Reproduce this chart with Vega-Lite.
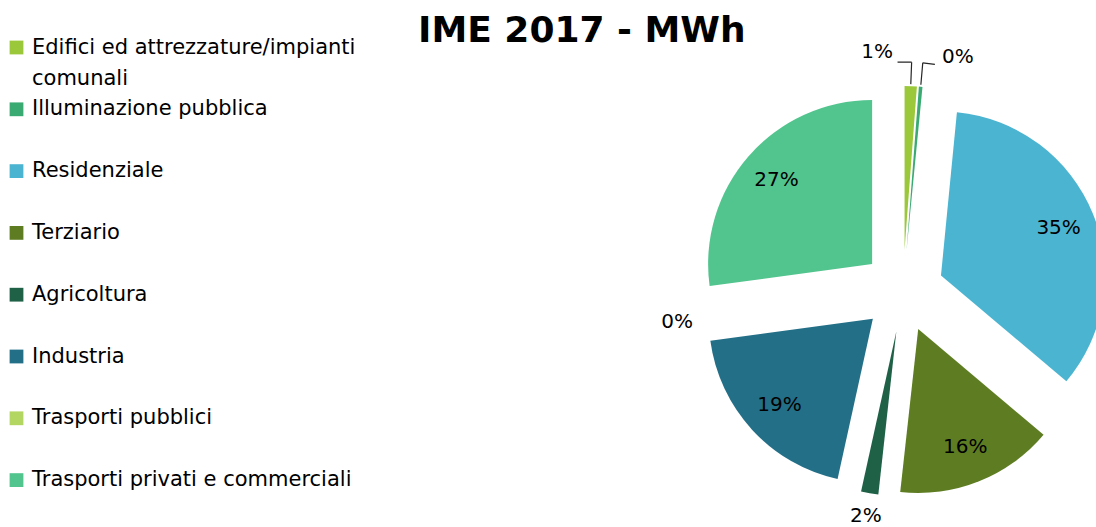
{
  "$schema": "https://vega.github.io/schema/vega-lite/v6.json",
  "width": 1096,
  "height": 527,
  "autosize": {"type": "none"},
  "padding": 0,
  "background": "#ffffff",
  "config": {"view": {"stroke": null}},
  "title": {
    "text": "IME 2017 - MWh",
    "font": "DejaVu Sans",
    "fontSize": 36,
    "fontWeight": "bold",
    "color": "#000000",
    "anchor": "start",
    "frame": "group",
    "dx": 418,
    "offset": -50
  },
  "data": {
    "values": [
      {"idx": 1, "category": "Edifici ed attrezzature/impianti comunali", "value": 1.2},
      {"idx": 2, "category": "Illuminazione pubblica", "value": 0.35},
      {"idx": 3, "category": "Residenziale", "value": 34.6},
      {"idx": 4, "category": "Terziario", "value": 15.6},
      {"idx": 5, "category": "Agricoltura", "value": 1.7},
      {"idx": 6, "category": "Industria", "value": 19.4},
      {"idx": 7, "category": "Trasporti pubblici", "value": 0},
      {"idx": 8, "category": "Trasporti privati e commerciali", "value": 27.15}
    ]
  },
  "transform": [
    {"window": [{"op": "sum", "field": "value", "as": "cum"}], "sort": [{"field": "idx"}], "frame": [null, 0]},
    {"calculate": "datum.cum - datum.value", "as": "start"},
    {"calculate": "datum.cum - datum.value / 2", "as": "mid"},
    {"calculate": "sin(datum.mid / 100 * 2 * PI)", "as": "ex"},
    {"calculate": "-cos(datum.mid / 100 * 2 * PI)", "as": "ey"},
    {"calculate": "format(datum.value, '.0f') + '%'", "as": "pct"}
  ],
  "encoding": {
    "x": {"field": "ex", "type": "quantitative", "scale": {"domain": [-1, 1], "range": [862, 944], "zero": false, "nice": false}, "axis": null},
    "y": {"field": "ey", "type": "quantitative", "scale": {"domain": [-1, 1], "range": [250, 332], "zero": false, "nice": false}, "axis": null}
  },
  "layer": [
    {
      "mark": {"type": "arc", "radius": 164},
      "encoding": {
        "theta": {"field": "start", "type": "quantitative", "scale": {"domain": [0, 100]}, "stack": null},
        "theta2": {"field": "cum"},
        "color": {
          "field": "category",
          "type": "nominal",
          "scale": {
            "domain": ["Edifici ed attrezzature/impianti comunali", "Illuminazione pubblica", "Residenziale", "Terziario", "Agricoltura", "Industria", "Trasporti pubblici", "Trasporti privati e commerciali"],
            "range": ["#9BC83A", "#3BAA72", "#4BB4D0", "#5E7D23", "#1F6147", "#236F87", "#B3D561", "#52C48E"]
          },
          "legend": {
            "orient": "none",
            "legendX": 6,
            "legendY": 37,
            "title": null,
            "padding": 0,
            "gridAlign": "all",
            "symbolType": "square",
            "symbolSize": 190,
            "symbolStrokeWidth": 0,
            "labelFont": "DejaVu Sans",
            "labelFontSize": 21,
            "labelColor": "#000000",
            "labelLimit": 0,
            "labelOffset": 5,
            "rowPadding": 8.8,
            "labelBaseline": "middle",
            "labelExpr": "datum.label == 'Edifici ed attrezzature/impianti comunali' ? ['Edifici ed attrezzature/impianti', 'comunali'] : datum.label",
            "encode": {"labels": {"update": {"lineHeight": {"value": 31}}}}
          }
        }
      }
    },
    {
      "transform": [{"filter": "datum.value >= 3"}],
      "mark": {"type": "text", "radius": 127, "font": "DejaVu Sans", "fontSize": 20, "color": "#000000", "align": "center", "baseline": "middle"},
      "encoding": {
        "theta": {"field": "mid", "type": "quantitative", "scale": {"domain": [0, 100]}, "stack": null},
        "text": {"field": "pct"}
      }
    },
    {
      "transform": [{"filter": "datum.idx == 5 || datum.idx == 7"}],
      "mark": {"type": "text", "radius": 187, "font": "DejaVu Sans", "fontSize": 20, "color": "#000000", "align": "center", "baseline": "middle"},
      "encoding": {
        "theta": {"field": "mid", "type": "quantitative", "scale": {"domain": [0, 100]}, "stack": null},
        "text": {"field": "pct"}
      }
    },
    {
      "transform": [{"filter": "datum.idx == 1"}],
      "mark": {"type": "text", "radius": 200, "dx": -35, "dy": 2, "font": "DejaVu Sans", "fontSize": 20, "color": "#000000", "align": "center", "baseline": "middle"},
      "encoding": {
        "theta": {"field": "mid", "type": "quantitative", "scale": {"domain": [0, 100]}, "stack": null},
        "text": {"field": "pct"}
      }
    },
    {
      "transform": [{"filter": "datum.idx == 2"}],
      "mark": {"type": "text", "radius": 200, "dx": 34, "dy": 6, "font": "DejaVu Sans", "fontSize": 20, "color": "#000000", "align": "center", "baseline": "middle"},
      "encoding": {
        "theta": {"field": "mid", "type": "quantitative", "scale": {"domain": [0, 100]}, "stack": null},
        "text": {"field": "pct"}
      }
    },
    {
      "transform": [{"filter": "datum.idx <= 2"}],
      "mark": {"type": "arc", "radius": 188, "radius2": 166, "fillOpacity": 0, "stroke": "#262626", "strokeWidth": 1.2},
      "encoding": {
        "theta": {"field": "mid", "type": "quantitative", "scale": {"domain": [0, 100]}, "stack": null},
        "theta2": {"field": "mid"}
      }
    },
    {
      "transform": [{"filter": "datum.idx == 1"}],
      "mark": {"type": "arc", "radius": 188, "radius2": 188, "theta2Offset": -0.075, "fillOpacity": 0, "stroke": "#262626", "strokeWidth": 1.2},
      "encoding": {
        "theta": {"field": "mid", "type": "quantitative", "scale": {"domain": [0, 100]}, "stack": null},
        "theta2": {"field": "mid"}
      }
    },
    {
      "transform": [{"filter": "datum.idx == 2"}],
      "mark": {"type": "arc", "radius": 188, "radius2": 188, "theta2Offset": 0.065, "fillOpacity": 0, "stroke": "#262626", "strokeWidth": 1.2},
      "encoding": {
        "theta": {"field": "mid", "type": "quantitative", "scale": {"domain": [0, 100]}, "stack": null},
        "theta2": {"field": "mid"}
      }
    }
  ]
}
